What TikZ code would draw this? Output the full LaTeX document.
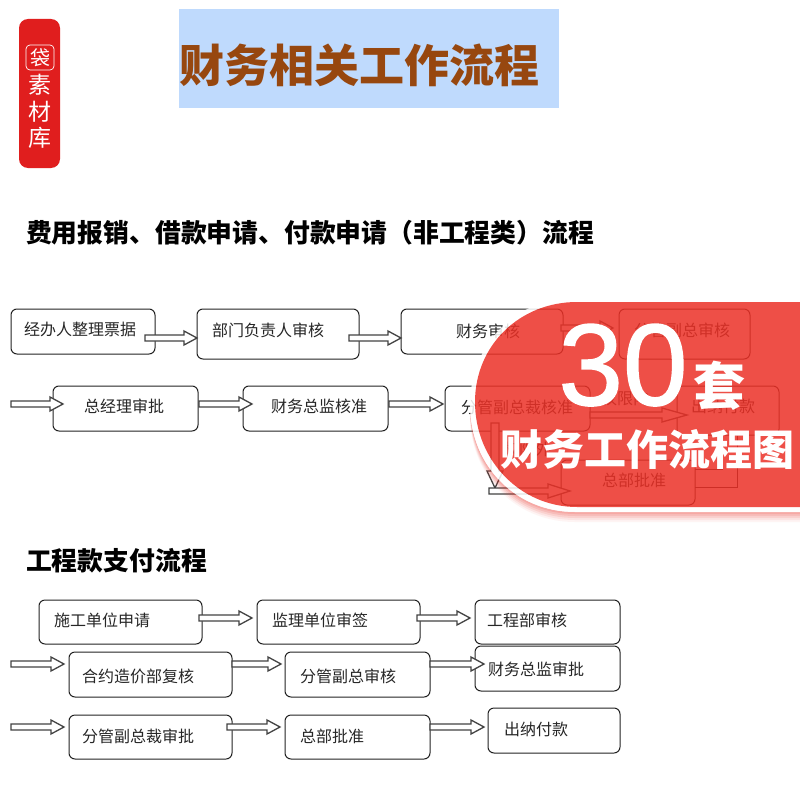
\documentclass[tikz,border=0pt]{standalone}
\usepackage{fontspec}
\usetikzlibrary{calc}
\setmainfont{Noto Sans CJK SC}
\newfontfamily\numfont[FakeBold=1.2]{Liberation Sans}
\definecolor{brandred}{HTML}{E01E1E}
\definecolor{titlebg}{HTML}{BFDAFD}
\definecolor{titlefg}{HTML}{97470F}
\definecolor{ribbon}{HTML}{EC3127}
\definecolor{boxline}{HTML}{222222}
\tikzset{
  x=1pt,y=-1pt,
  flowbox/.style={draw=boxline,line width=1pt,rounded corners=6pt,fill=white,inner sep=0pt,outer sep=0pt,anchor=north west},
  boxlabel/.style={font=\fontsize{16}{16}\selectfont,text=black!85,inner sep=0pt},
  heading/.style={font=\fontsize{25.8}{26}\selectfont\bfseries,text=black,inner sep=0pt,anchor=west},
  blockline/.style={draw=boxline!85,line width=1.3pt,fill=white,line join=miter},
  plainline/.style={draw=boxline,line width=1pt},
  whitetext/.style={text=white,inner sep=0pt}
}
% name, x1, y1, x2, y2, label x, label y, label
\newcommand{\flow}[8]{%
  \node[flowbox,minimum width={(#4-#2)*1pt},minimum height={(#5-#3)*1pt}] (#1) at (#2,#3) {};
  \node[boxlabel] (#1-t) at (#6,#7) {#8};
}
% from coordinate, to coordinate (only x used), y, head length
\newcommand{\blockarrow}[4]{%
  \path[blockline] let \p1=(#1), \p2=(#2) in
    (\x1,-#3pt+3pt) -- (\x2-#4pt,-#3pt+3pt) -- (\x2-#4pt,-#3pt+7pt) -- (\x2,-#3pt)
    -- (\x2-#4pt,-#3pt-7pt) -- (\x2-#4pt,-#3pt-3pt) -- (\x1,-#3pt-3pt) -- cycle;
}
\newcommand{\outerpath}{(800,298) -- (575,298) .. controls (515,298) and (470,345) .. (470,405) .. controls (470,465) and (515,512) .. (575,512) -- (800,512) -- cycle}
\newcommand{\innerpath}{(800,302) -- (577,302) .. controls (520,302) and (475,345) .. (475,402) .. controls (475,460) and (520,507) .. (577,507) -- (800,507) -- cycle}
\begin{document}
\begin{tikzpicture}
\useasboundingbox (0,0) rectangle (800,800);
\fill[white] (0,0) rectangle (800,800);
% brand tag
\fill[brandred,rounded corners=9pt] (19,19) rectangle (60,168);
\draw[white,line width=0.7pt,rounded corners=4pt] (26,45) rectangle (54,70);
\node[whitetext,font=\fontsize{20}{20}\selectfont] (bag) at (40,57.5) {袋};
\node[whitetext,font=\fontsize{23}{23}\selectfont] (su) at (40,85) {素};
\node[whitetext,font=\fontsize{23}{23}\selectfont] (cai) at (40,112) {材};
\node[whitetext,font=\fontsize{23}{23}\selectfont] (ku) at (40,138) {库};
% title
\fill[titlebg] (179,9) rectangle (559,108);
\node[inner sep=0pt,text=titlefg,font=\fontsize{45}{45}\selectfont\bfseries] (title) at (359,65) {财务相关工作流程};
% headings
\node[heading] (h1) at (26,233) {费用报销、借款申请、付款申请（非工程类）流程};
\node[heading] (h2) at (26,561) {工程款支付流程};
% first flow
\flow{a1}{11}{309}{155}{354}{80}{329}{经办人整理票据}
\flow{a2}{197}{309}{359}{359}{268}{330}{部门负责人审核}
\flow{a3}{401}{309}{563}{354}{488}{331}{财务审核}
\flow{a4}{619}{309}{750}{359}{682}{330}{分管副总审核}
\flow{b1}{53}{386}{198}{431}{124}{406}{总经理审批}
\flow{b2}{243}{386}{388}{431}{319}{406}{财务总监核准}
\flow{b5}{677}{386}{779}{435}{723}{406}{出纳付款}
\flow{b6}{561}{460}{695}{505}{634}{480}{总部批准}
\flow{b3}{445}{386}{590}{431}{517}{407}{分管副总裁核准}
\node[boxlabel] (lim1) at (625,398) {权限内};
\node[boxlabel] (lim2) at (527,449) {权限外};
\draw[plainline] (b6.east |- 0,487) -| (b5.south -| 737,0);
\draw[plainline] (b6.east |- 0,469) -| (b5.south -| 722,0);
\coordinate (free1) at (11,404);
\blockarrow{$(a1.east)+(-10,0)$}{a2.west}{338}{13}
\blockarrow{$(a2.east)+(-10,0)$}{a3.west}{338}{13}
\blockarrow{$(a3.east)+(-2,0)$}{$(a4.west)+(-6,0)$}{328}{13}
\blockarrow{free1}{$(b1.west)+(10,0)$}{404}{13}
\blockarrow{$(b1.east)+(1,0)$}{$(b2.west)+(9,0)$}{404}{13}
\blockarrow{$(b2.east)+(1,0)$}{$(b3.west)+(-2,0)$}{404}{13}
\blockarrow{b3.east}{$(b5.west)+(10,0)$}{415}{25}
\path[blockline] (491,423) -- (499,423) -- (499,471) -- (503,471) -- (495,488) -- (487,471) -- (491,471) -- cycle;
\coordinate (free2) at (489,491);
\blockarrow{free2}{$(b6.west)+(9,0)$}{491}{22}
% second flow
\flow{c1}{39}{600}{202}{644}{102}{620}{施工单位申请}
\flow{c2}{257}{600}{420}{644}{320}{620}{监理单位审签}
\flow{c3}{475}{600}{620}{644}{527}{620}{工程部审核}
\flow{d1}{69}{652}{232}{697}{138}{676}{合约造价部复核}
\flow{d2}{285}{652}{430}{697}{348}{676}{分管副总审核}
\flow{d3}{475}{646}{620}{691}{536}{669}{财务总监审批}
\flow{e1}{69}{715}{232}{759}{138}{736}{分管副总裁审批}
\flow{e2}{285}{715}{430}{759}{332}{736}{总部批准}
\flow{e3}{488}{708}{620}{753}{536}{729}{出纳付款}
\coordinate (free3) at (11,664);
\coordinate (free4) at (11,727);
\blockarrow{$(c1.east)+(-3,0)$}{$(c2.west)+(-5,0)$}{618}{13}
\blockarrow{$(c2.east)+(-3,0)$}{$(c3.west)+(-5,0)$}{618}{13}
\blockarrow{free3}{$(d1.west)+(-5,0)$}{664}{13}
\blockarrow{d1.east}{$(d2.west)+(-4,0)$}{664}{13}
\blockarrow{d2.east}{$(d3.west)+(9,0)$}{664}{13}
\blockarrow{free4}{$(e1.west)+(-5,0)$}{727}{13}
\blockarrow{$(e1.east)+(-5,0)$}{$(e2.west)+(-5,0)$}{727}{13}
\blockarrow{e2.east}{$(e3.west)+(-4,0)$}{727}{13}
% ribbon
\begin{scope}[even odd rule]
\clip (0,0) rectangle (800,800) \outerpath;
\foreach \s/\o in {2/.14,4/.12,6/.10,8/.08,10/.05}{
  \fill[ribbon,opacity=\o,yshift=-\s pt] \outerpath;
}
\end{scope}
\fill[white,opacity=.85,even odd rule] \outerpath \innerpath;
\fill[ribbon,opacity=.85] \innerpath;
\node[whitetext,font=\fontsize{116}{116}\selectfont\numfont,anchor=base] (n30) at (623,405) {30};
\node[whitetext,font=\fontsize{52}{52}\selectfont\bfseries] (tao) at (719,386) {套};
\node[whitetext,font=\fontsize{42}{42}\selectfont\bfseries] (sub) at (647,449) {财务工作流程图};
\end{tikzpicture}
\end{document}
